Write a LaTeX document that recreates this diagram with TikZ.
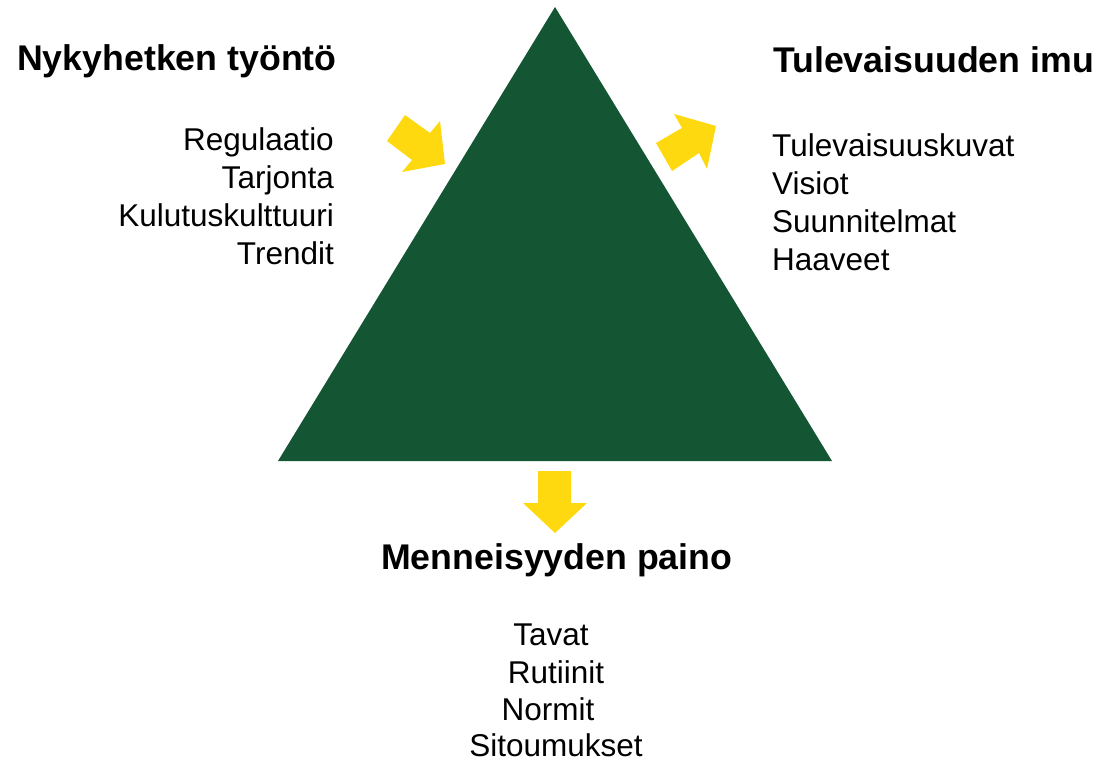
\documentclass[tikz,border=0pt]{standalone}
\usepackage{fontspec}
\setmainfont{Liberation Sans}
\definecolor{trigreen}{RGB}{20,86,52}
\definecolor{arrowyellow}{RGB}{255,217,15}
\begin{document}
\begin{tikzpicture}[x=1pt,y=-1pt,
  title/.style={inner sep=0pt,font=\fontsize{35.7}{42}\selectfont\bfseries},
  item/.style={inner sep=0pt,font=\fontsize{31.5}{38}\selectfont},
  bigarrow/.style={fill=arrowyellow,draw=none}]
\useasboundingbox (0,0) rectangle (1097,763);
% triangle
\fill[trigreen] (555,7) -- (832,461) -- (278,461) -- cycle;
% arrows
\path[bigarrow] (387,141) -- (405,115) -- (430,133) -- (440,121) -- (445,164) -- (402,172) -- (412,160) -- cycle;
\path[bigarrow] (656,143) -- (682,128) -- (674,114) -- (716,126) -- (707,169) -- (699,153) -- (672,171) -- cycle;
\path[bigarrow] (538,471) -- (571,471) -- (571,503) -- (587,503) -- (555,533) -- (523,503) -- (538,503) -- cycle;
% titles
\node[title,anchor=base west] (push) at (17,70) {Nykyhetken työntö};
\node[title,anchor=base west] (pull) at (773,72) {Tulevaisuuden imu};
\node[title,anchor=base west] (weight) at (381,569) {Menneisyyden paino};
% left list
\node[item,anchor=base east] (l1) at (334,150) {Regulaatio};
\node[item,anchor=base east] (l2) at (334,188) {Tarjonta};
\node[item,anchor=base east] (l3) at (334,226) {Kulutuskulttuuri};
\node[item,anchor=base east] (l4) at (334,264) {Trendit};
% right list
\node[item,anchor=base west] (r1) at (772,156) {Tulevaisuuskuvat};
\node[item,anchor=base west] (r2) at (772,194) {Visiot};
\node[item,anchor=base west] (r3) at (772,232) {Suunnitelmat};
\node[item,anchor=base west] (r4) at (772,270) {Haaveet};
% bottom list
\node[item,anchor=base] (b1) at (551,645) {Tavat};
\node[item,anchor=base] (b2) at (556,683) {Rutiinit};
\node[item,anchor=base] (b3) at (548,720) {Normit};
\node[item,anchor=base] (b4) at (556,756) {Sitoumukset};
\end{tikzpicture}
\end{document}
